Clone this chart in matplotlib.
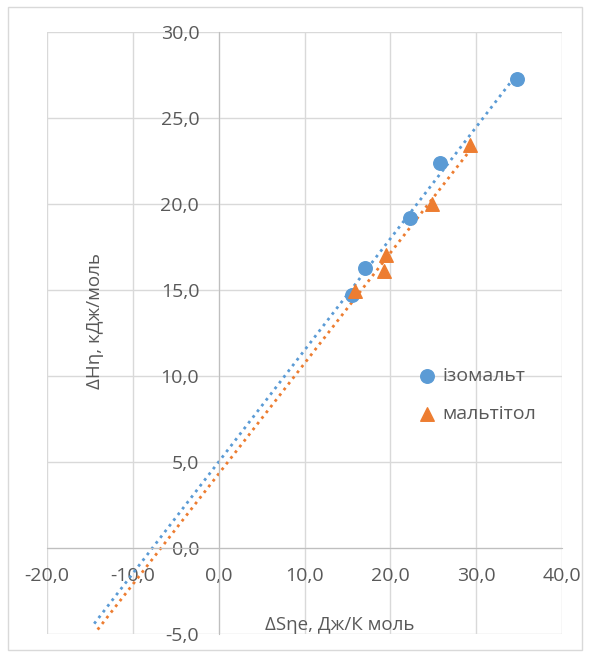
import numpy as np
import matplotlib
matplotlib.use("Agg")
import matplotlib.pyplot as plt
from matplotlib.ticker import FuncFormatter, MultipleLocator
from matplotlib.patches import Rectangle

# data
iso_x = [34.7, 25.8, 22.3, 17.0, 15.5]
iso_y = [27.25, 22.4, 19.2, 16.3, 14.7]
mal_x = [29.3, 24.9, 19.5, 19.3, 15.9]
mal_y = [23.42, 20.02, 17.02, 16.12, 14.92]
series_names = ["ізомальт", "мальтітол"]
x_label = "ΔSηe, Дж/К моль"
y_label = "ΔHη, кДж/моль"
backward = 30.0

blue = "#5B9BD5"
orange = "#ED7D31"
txt = "#595959"
grid = "#D9D9D9"

plt.rcParams['font.family'] = ['Open Sans', 'DejaVu Sans']

fig = plt.figure(figsize=(5.92, 6.56), dpi=100)
ax = fig.add_axes([47/592, 1-634/656, (562-47)/592, (634-32)/656])

ax.set_xlim(-20, 40)
ax.set_ylim(-5, 30)
ax.xaxis.set_major_locator(MultipleLocator(10))
ax.yaxis.set_major_locator(MultipleLocator(5))
fmt = FuncFormatter(lambda v, p: f"{v:.1f}".replace(".", ","))
ax.xaxis.set_major_formatter(fmt)
ax.yaxis.set_major_formatter(fmt)
ax.grid(True, color=grid, lw=1.0, zorder=0)
ax.set_axisbelow(True)

for s in ["top", "right"]:
    ax.spines[s].set_visible(False)
ax.spines["left"].set_position(("data", 0))
ax.spines["bottom"].set_position(("data", 0))
ax.spines["left"].set_color("#BFBFBF")
ax.spines["bottom"].set_color("#BFBFBF")
ax.tick_params(axis="both", length=0, labelsize=14, labelcolor=txt)
ax.tick_params(axis="x", pad=14)
ax.tick_params(axis="y", pad=14)

for xs, ys, c in [(iso_x, iso_y, blue), (mal_x, mal_y, orange)]:
    k, b = np.polyfit(xs, ys, 1)
    xx = np.array([min(xs) - backward, max(xs)])
    ax.plot(xx, k * xx + b, ls=(0, (1, 1.6)), color=c, lw=2.0, zorder=2, clip_on=False)

ax.scatter(iso_x, iso_y, s=95, color=blue, marker="o", zorder=3, label=series_names[0])
ax.scatter(mal_x, mal_y, s=95, color=orange, marker="^", zorder=3, label=series_names[1])

leg = ax.legend(loc="upper left", bbox_to_anchor=((417-47)/515, 1-(367-32)/602),
                frameon=False, fontsize=14, handletextpad=0.3, labelspacing=1.05,
                borderaxespad=0, handlelength=1.0, borderpad=0)
for t in leg.get_texts():
    t.set_color(txt)

fig.text(95/592, 1-321/656, y_label, rotation=90, ha="center", va="center",
         fontsize=13.5, color=txt)
fig.text(340/592, 1-625/656, x_label, ha="center", va="center",
         fontsize=13.5, color=txt)

fig.patches.append(Rectangle((8/592, 6/656), 574/592, 643/656, transform=fig.transFigure,
                             fill=False, edgecolor="#D9D9D9", lw=1.0))

fig.savefig("out.png", dpi=100)
